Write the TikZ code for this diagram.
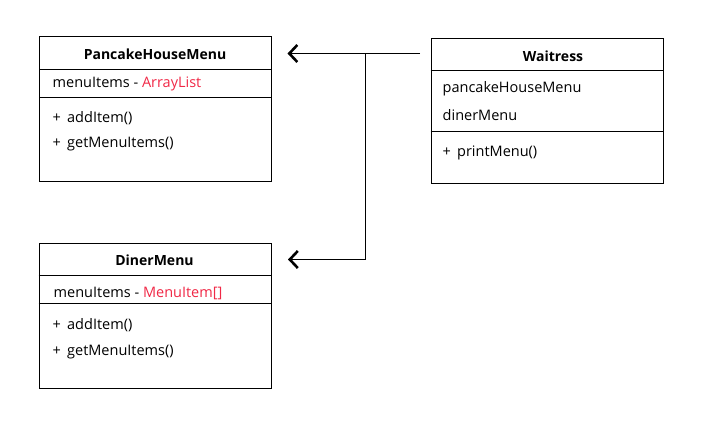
\documentclass[tikz,border=0pt]{standalone}
\usepackage{fontspec}
\setmainfont{Open Sans}
\usetikzlibrary{arrows.meta}
\definecolor{typered}{RGB}{240,40,70}
\begin{document}
\begin{tikzpicture}[x=1pt,y=-1pt,
  umlbox/.style={draw,line width=1pt,inner sep=0pt,anchor=north west},
  divider/.style={line width=1pt},
  title/.style={font=\fontsize{14}{16}\selectfont\bfseries,inner sep=0pt},
  member/.style={font=\fontsize{14.5}{16}\selectfont,inner sep=0pt,anchor=west},
  conn/.style={line width=1.2pt},
  tip/.style={-{Straight Barb[length=8pt,width=17pt,line width=2.6pt]}}]
\useasboundingbox (0,0) rectangle (706,431);
% PancakeHouseMenu
\node[umlbox,minimum width=232pt,minimum height=145pt] (phm) at (39,36) {};
\draw[divider] (39,69) -- (271,69);
\draw[divider] (39,97) -- (271,97);
\node[title] (phmT) at (155,54) {PancakeHouseMenu};
\node[member] (phmA) at (52.5,84) {menuItems - \textcolor{typered}{ArrayList}};
\node[member] (phmM1) at (52.5,118) {+\, addItem()};
\node[member] (phmM2) at (52.5,144.5) {+\, getMenuItems()};
% DinerMenu
\node[umlbox,minimum width=232pt,minimum height=145pt] (dm) at (38.5,242.5) {};
\draw[divider] (38.5,275.5) -- (270.5,275.5);
\draw[divider] (38.5,303.5) -- (270.5,303.5);
\node[title] (dmT) at (154.5,260.5) {DinerMenu};
\node[member] (dmA) at (53.5,293) {menuItems - \textcolor{typered}{MenuItem[]}};
\node[member] (dmM1) at (52.5,325.5) {+\, addItem()};
\node[member] (dmM2) at (52.5,352) {+\, getMenuItems()};
% Waitress
\node[umlbox,minimum width=232pt,minimum height=145pt] (w) at (430.5,37.5) {};
\draw[divider] (430.5,70.5) -- (662.5,70.5);
\draw[divider] (430.5,131.5) -- (662.5,131.5);
\node[title] (wT) at (553,56) {Waitress};
\node[member] (wA1) at (442.5,89) {pancakeHouseMenu};
\node[member] (wA2) at (442.5,115) {dinerMenu};
\node[member] (wM1) at (442.5,152.5) {+\, printMenu()};
% connectors
\coordinate (src) at (420,53.5);
\coordinate (junc) at (365.5,53.5);
\coordinate (phmEnd) at (287.5,53.5);
\coordinate (dmEnd) at (288,259.5);
\draw[conn,tip] (src) -- (phmEnd);
\draw[conn,tip] (junc) |- (dmEnd);
\end{tikzpicture}
\end{document}
